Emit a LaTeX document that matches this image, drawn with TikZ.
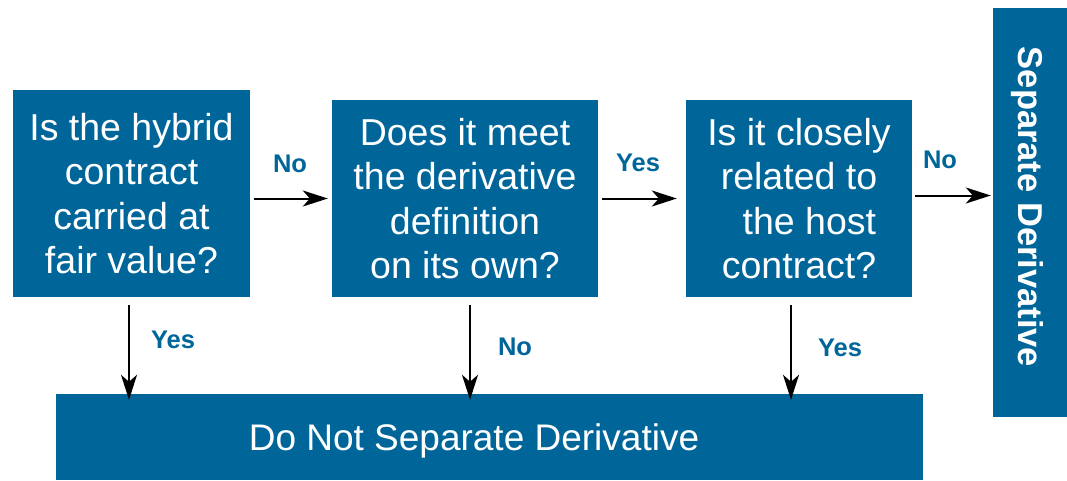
\documentclass[tikz,border=0pt]{standalone}
\usepackage{fontspec}
\setmainfont{Liberation Sans}
\usetikzlibrary{arrows.meta}
\definecolor{boxblue}{RGB}{0,102,153}
\begin{document}
\begin{tikzpicture}[x=1pt,y=-1pt,
  qbox/.style={fill=boxblue,draw=none,inner sep=0pt,text=white,align=center,
    font=\fontsize{37.5pt}{44.5pt}\selectfont},
  lbl/.style={text=boxblue,font=\fontsize{25.5pt}{30pt}\selectfont\bfseries,inner sep=0pt},
  arr/.style={draw=black,line width=2pt,-{Stealth[length=25pt,width=16pt,inset=7pt]}}]
\useasboundingbox (0,0) rectangle (1067,480);
% boxes
\node[qbox,minimum width=237pt,minimum height=207pt,text depth=-2pt] (b1) at (131.5,193.5)
  {Is the hybrid\\contract\\carried at\\fair value?};
\node[qbox,minimum width=266pt,minimum height=197pt] (b2) at (465,198.5)
  {Does it meet\\the derivative\\definition\\on its own?};
\node[qbox,minimum width=226pt,minimum height=197pt] (b3) at (799,198.5)
  {Is it closely\\related to\\\ \ the host\\contract?};
\node[qbox,minimum width=74pt,minimum height=409pt] (sep) at (1030,212.5) {};
\node[text=white,rotate=-90,inner sep=0pt,font=\fontsize{34.5pt}{40pt}\selectfont\bfseries] (septxt) at (1027,207) {Separate Derivative};
\node[qbox,minimum width=867pt,minimum height=86pt] (bot) at (489.5,437) {};
\node[text=white,inner sep=0pt,font=\fontsize{37pt}{44pt}\selectfont] (bottxt) at (474,441) {Do Not Separate Derivative};
% x positions of the down arrows
\coordinate (c1) at (129,0);
\coordinate (c2) at (470,0);
\coordinate (c3) at (791,0);
% horizontal arrows
\draw[arr] ([xshift=4pt]b1.east |- b2.west) -- ([xshift=-4pt]b2.west);
\draw[arr] ([xshift=4pt]b2.east) -- ([xshift=-9pt]b3.west);
\draw[arr] ([xshift=3pt,yshift=3pt]b3.east) -- ([xshift=-2pt,yshift=3pt]b3.east -| sep.west);
% down arrows
\draw[arr] ([yshift=-8pt]b1.south -| c1) -- ([yshift=-6pt]bot.north -| c1);
\draw[arr] ([yshift=-8pt]b2.south -| c2) -- ([yshift=-6pt]bot.north -| c2);
\draw[arr] ([yshift=-8pt]b3.south -| c3) -- ([yshift=-6pt]bot.north -| c3);
% labels
\node[lbl] (l1) at (290,164) {No};
\node[lbl] (l2) at (638,163) {Yes};
\node[lbl] (l3) at (940,160) {No};
\node[lbl] (l4) at (173,340) {Yes};
\node[lbl] (l5) at (515,347) {No};
\node[lbl] (l6) at (840,348) {Yes};
\end{tikzpicture}
\end{document}
